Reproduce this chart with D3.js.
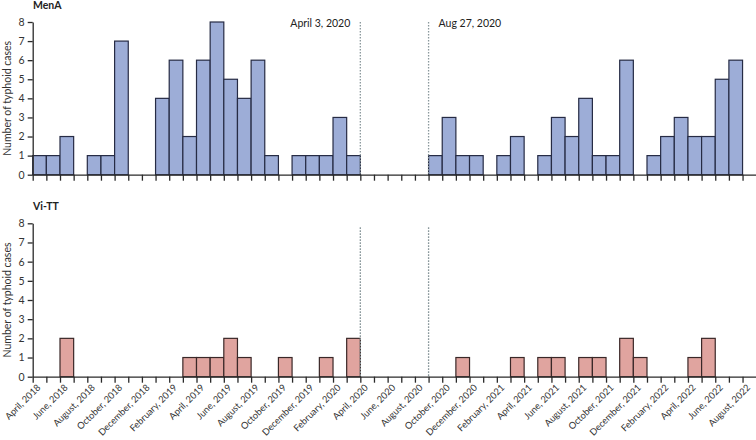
<!DOCTYPE html>
<html>
<head>
<meta charset="utf-8">
<script src="https://cdn.jsdelivr.net/npm/d3@7"></script>
<style>
    body { margin: 0; background: #fff; }
    svg { display: block; font-family: Lato, "Liberation Sans", sans-serif; }
</style>
</head>
<body>
<div id="chart"></div>
<script>
"use strict"

// months from April 2018 to August 2022
let months = [
    "2018-04", "2018-05", "2018-06", "2018-07", "2018-08", "2018-09", "2018-10", "2018-11", "2018-12",
    "2019-01", "2019-02", "2019-03", "2019-04", "2019-05", "2019-06", "2019-07", "2019-08", "2019-09", "2019-10", "2019-11", "2019-12",
    "2020-01", "2020-02", "2020-03", "2020-04", "2020-05", "2020-06", "2020-07", "2020-08", "2020-09", "2020-10", "2020-11", "2020-12",
    "2021-01", "2021-02", "2021-03", "2021-04", "2021-05", "2021-06", "2021-07", "2021-08", "2021-09", "2021-10", "2021-11", "2021-12",
    "2022-01", "2022-02", "2022-03", "2022-04", "2022-05", "2022-06", "2022-07", "2022-08"
];

let menA = [1, 1, 2, 0, 1, 1, 7, 0, 0,
    4, 6, 2, 6, 8, 5, 4, 6, 1, 0, 1, 1,
    1, 3, 1, 0, 0, 0, 0, 0, 1, 3, 1, 1,
    0, 1, 2, 0, 1, 3, 2, 4, 1, 1, 6, 0,
    1, 2, 3, 2, 2, 5, 6, 0];

let viTT = [0, 0, 2, 0, 0, 0, 0, 0, 0,
    0, 0, 1, 1, 1, 2, 1, 0, 0, 1, 0, 0,
    1, 0, 2, 0, 0, 0, 0, 0, 0, 0, 1, 0,
    0, 0, 1, 0, 1, 1, 0, 1, 1, 0, 2, 1,
    0, 0, 0, 1, 2, 0, 0, 0];

let tickLabels = [
    "April, 2018", "June, 2018", "August, 2018", "October, 2018", "December, 2018",
    "February, 2019", "April, 2019", "June, 2019", "August, 2019", "October, 2019", "December, 2019",
    "February, 2020", "April, 2020", "June, 2020", "August, 2020", "October, 2020", "December, 2020",
    "February, 2021", "April, 2021", "June, 2021", "August, 2021", "October, 2021", "December, 2021",
    "February, 2022", "April, 2022", "June, 2022", "August, 2022"
];

let eventLabels = ["April 3, 2020", "Aug 27, 2020"];
let eventMonths = ["2020-04", "2020-09"];

let yTicks = [0, 1, 2, 3, 4, 5, 6, 7, 8];

let svg = d3.select("#chart").append("svg")
    .attr("width", 756)
    .attr("height", 440);

let x = d3.scaleBand()
    .domain(months)
    .range([32.7, 756.2])
    .padding(0);

// linear version for tick marks on band edges
let xEdge = d3.scaleLinear()
    .domain([0, months.length])
    .range([32.7, 756.2]);

drawPanel(menA, "MenA", 22, 174.7, "#9dadd7", "#262b44", false);
drawPanel(viTT, "Vi-TT", 223.3, 376.7, "#e0a49f", "#3a2828", true);

function drawPanel(values, title, top, bottom, fill, stroke, showLabels) {
    let y = d3.scaleLinear()
        .domain([0, 8])
        .range([bottom, top]);

    let g = svg.append("g");

    // bars
    g.selectAll("rect")
        .data(values.map((v, i) => ({ month: months[i], value: v })).filter(d => d.value > 0))
        .enter()
        .append("rect")
        .attr("x", d => x(d.month))
        .attr("y", d => y(d.value))
        .attr("width", x.bandwidth())
        .attr("height", d => y(0) - y(d.value))
        .style("fill", fill)
        .style("stroke", stroke)
        .style("stroke-width", "1.2px");

    // event lines
    eventMonths.forEach(function(m, i) {
        g.append("line")
            .attr("x1", x(m))
            .attr("x2", x(m))
            .attr("y1", y(8) + (showLabels ? 4 : 0))
            .attr("y2", y(0))
            .style("stroke", "#8a989c")
            .style("stroke-width", "1.3px")
            .style("stroke-dasharray", "1.6,1.4");

        if (!showLabels) {
            g.append("text")
                .attr("x", i === 0 ? x(m) - 10 : x(m) + 10)
                .attr("y", y(8) + 5)
                .attr("text-anchor", i === 0 ? "end" : "start")
                .style("font-size", "10.5px")
                .style("fill", "#222")
                .text(eventLabels[i]);
        }
    });

    // x axis
    let xAxis = d3.axisBottom(xEdge)
        .tickValues(d3.range(months.length + 1))
        .tickFormat("")
        .tickSize(6)
        .tickSizeOuter(0);

    let gx = g.append("g")
        .attr("transform", "translate(0," + y(0) + ")")
        .call(xAxis);
    gx.select(".domain").style("stroke", "#2a2a2a").style("stroke-width", "1.3px");
    gx.selectAll(".tick line").style("stroke", "#2a2a2a").style("stroke-width", "1.3px");

    // y axis
    let yAxis = d3.axisLeft(y)
        .tickValues(yTicks)
        .tickSize(5)
        .tickSizeOuter(0)
        .tickPadding(3);

    let gy = g.append("g")
        .attr("transform", "translate(32.7,0)")
        .call(yAxis);
    gy.select(".domain").style("stroke", "#2a2a2a").style("stroke-width", "1.3px");
    gy.selectAll(".tick line").style("stroke", "#2a2a2a").style("stroke-width", "1.3px");
    gy.selectAll("text")
        .style("font-family", "Lato, sans-serif")
        .style("font-size", "10.5px")
        .style("fill", "#333");

    // titles
    g.append("text")
        .attr("x", 33)
        .attr("y", top - 13.5)
        .style("font-size", "10.5px")
        .style("font-weight", "bold")
        .style("fill", "#222")
        .text(title);

    g.append("text")
        .attr("transform", "translate(11," + ((top + bottom) / 2) + ") rotate(-90)")
        .attr("text-anchor", "middle")
        .style("font-size", "10.5px")
        .style("fill", "#333")
        .text("Number of typhoid cases");

    // month labels under the lower panel
    if (showLabels) {
        g.selectAll(".monthLabel")
            .data(tickLabels)
            .enter()
            .append("text")
            .attr("class", "monthLabel")
            .attr("transform", function(d, i) {
                let cx = x(months[i * 2]) + x.bandwidth() / 2;
                return "translate(" + (cx + 1.5) + "," + (y(0) + 11.5) + ") rotate(-45)";
            })
            .attr("text-anchor", "end")
            .style("font-size", "9.3px")
            .style("fill", "#333")
            .text(d => d);
    }
}
</script>
</body>
</html>
